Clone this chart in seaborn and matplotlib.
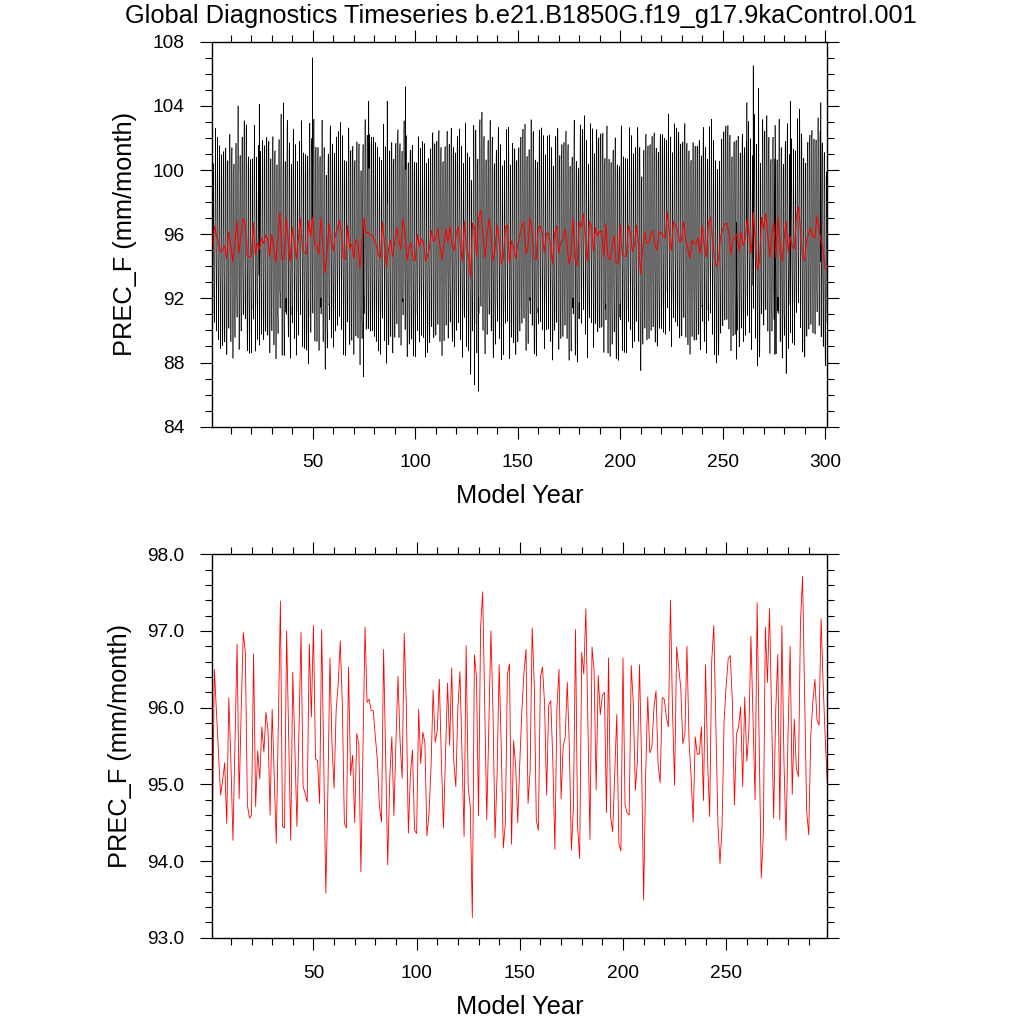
import numpy as np
import matplotlib
matplotlib.use("Agg")
import matplotlib.pyplot as plt
import seaborn as sns
from matplotlib.ticker import MultipleLocator, FormatStrFormatter

case_name = "b.e21.B1850G.f19_g17.9kaControl.001"
var_label = "PREC_F (mm/month)"

annual_prec = [
    94.30, 96.50, 95.96, 95.42, 94.86, 95.05, 95.28, 94.49, 96.13, 95.30,
    94.27, 95.57, 96.83, 94.81, 95.96, 96.98, 96.72, 94.73, 94.56, 94.60,
    96.70, 94.71, 95.44, 95.07, 95.75, 95.42, 95.94, 95.70, 94.60, 95.98,
    95.10, 94.23, 95.80, 97.39, 94.45, 94.43, 97.00, 95.60, 94.27, 96.46,
    95.49, 94.45, 95.70, 96.98, 94.97, 94.88, 94.77, 96.83, 95.88, 97.07,
    95.33, 95.31, 94.75, 97.02, 95.30, 93.58, 94.90, 96.65, 95.53, 94.95,
    95.96, 96.31, 96.87, 96.05, 94.49, 94.43, 96.53, 95.12, 95.38, 94.50,
    95.66, 95.53, 93.86, 95.49, 97.05, 96.07, 96.11, 95.96, 95.96, 95.62,
    95.31, 94.71, 94.51, 96.76, 95.36, 93.95, 95.10, 95.62, 94.59, 95.57,
    96.41, 95.55, 95.08, 96.97, 96.05, 94.36, 95.14, 95.45, 94.40, 94.36,
    95.98, 95.27, 95.68, 95.55, 94.33, 94.62, 95.23, 96.23, 95.55, 95.70,
    96.37, 95.31, 94.43, 95.36, 96.32, 95.51, 96.52, 95.31, 94.97, 96.00,
    96.47, 95.40, 94.32, 96.81, 94.97, 94.71, 93.26, 96.69, 96.40, 94.59,
    97.04, 97.51, 96.00, 94.54, 95.75, 97.00, 95.96, 94.30, 95.14, 96.56,
    95.49, 94.17, 94.49, 96.44, 96.57, 94.22, 95.57, 95.23, 94.50, 95.29,
    95.96, 96.45, 96.76, 94.75, 95.18, 97.04, 96.31, 94.53, 94.40, 96.40,
    96.53, 96.05, 94.86, 96.03, 96.09, 95.31, 94.15, 96.00, 96.50, 94.81,
    95.49, 95.62, 96.33, 95.49, 94.14, 94.71, 97.02, 94.45, 94.03, 96.72,
    96.44, 97.29, 95.75, 94.28, 96.79, 96.48, 94.93, 96.42, 95.91, 96.16,
    96.20, 94.63, 96.65, 94.58, 94.38, 95.14, 95.91, 94.23, 94.13, 96.65,
    94.73, 94.63, 94.60, 96.55, 96.05, 94.92, 95.31, 96.56, 95.31, 93.49,
    95.14, 96.14, 95.41, 95.49, 96.00, 96.22, 95.27, 95.02, 96.13, 96.11,
    95.88, 95.75, 97.40, 95.96, 94.99, 96.79, 96.52, 96.26, 95.53, 95.66,
    96.80, 95.57, 95.10, 94.51, 95.62, 95.39, 95.40, 95.75, 94.79, 96.56,
    95.31, 94.58, 96.61, 97.07, 95.75, 94.49, 93.96, 94.45, 95.83, 96.29,
    96.64, 96.68, 96.08, 94.73, 95.66, 95.75, 96.01, 94.97, 96.14, 95.30,
    95.69, 96.93, 95.86, 94.80, 97.37, 95.51, 93.78, 94.34, 97.05, 96.33,
    97.29, 95.95, 94.56, 95.95, 96.69, 94.54, 97.07, 95.30, 94.27, 95.69,
    96.80, 94.87, 95.85, 95.21, 95.10, 97.11, 97.71, 96.16, 94.65, 94.34,
    95.64, 96.08, 96.37, 95.84, 95.77, 97.16, 96.30, 95.60, 95.00, 93.80,
]

# mean seasonal cycle as anomaly from the annual mean, Jan..Dec
seasonal_anom = [-5.0, -6.0, -4.4, -1.7, 1.3, 4.0, 5.6, 6.1, 4.4, 1.0, -2.0, -3.3]

# single months sticking out of the envelope in the upper panel: (model time, value)
monthly_extremes = [
    (13.6, 104.0), (23.9, 104.1), (35.7, 104.2), (49.8, 107.0), (77.3, 104.3),
    (86.3, 104.3), (95.3, 105.2), (261.8, 104.2), (264.9, 106.5), (267.6, 105.1),
    (283.0, 104.3), (297.9, 104.2),
    (47.8, 87.9), (74.7, 87.1), (128.9, 86.6), (130.9, 86.2), (256.7, 88.2),
    (275.5, 88.5), (281.0, 87.3),
]

# monthly series = annual mean + seasonal cycle, with the read-off extremes
n_years = len(annual_prec)
years = np.arange(1, n_years + 1)
month_time = 1 + np.arange(n_years * 12) / 12.0
monthly_prec = np.repeat(annual_prec, 12) + np.tile(seasonal_anom, n_years)
for t, v in monthly_extremes:
    monthly_prec[np.argmin(np.abs(month_time - t))] = v

# lower panel shows years 1-299
n_low = 299

sns.set_style("white")
plt.rcParams['font.family'] = ['Liberation Sans', 'DejaVu Sans']
plt.rcParams['text.color'] = 'black'
plt.rcParams['axes.labelcolor'] = 'black'
plt.rcParams['xtick.color'] = 'black'
plt.rcParams['ytick.color'] = 'black'

fig = plt.figure(figsize=(10.24, 10.24), dpi=100)
ax1 = fig.add_axes([212.3 / 1024, 1 - 426.7 / 1024, 614.7 / 1024, 385.0 / 1024])
ax2 = fig.add_axes([212.3 / 1024, 1 - 937.7 / 1024, 615.0 / 1024, 383.4 / 1024])

sns.lineplot(x=month_time, y=monthly_prec, ax=ax1, color='black', linewidth=0.42)
sns.lineplot(x=years, y=annual_prec, ax=ax1, color='red', linewidth=0.75)
sns.lineplot(x=years[:n_low], y=annual_prec[:n_low], ax=ax2, color='red', linewidth=0.6)

ax1.set_xlim(1, month_time[-1])
ax1.set_ylim(84, 108)
ax1.yaxis.set_major_locator(MultipleLocator(4))
ax1.yaxis.set_minor_locator(MultipleLocator(1))

ax2.set_xlim(1, n_low)
ax2.set_ylim(93, 98)
ax2.yaxis.set_major_locator(MultipleLocator(1))
ax2.yaxis.set_minor_locator(MultipleLocator(0.2))
ax2.yaxis.set_major_formatter(FormatStrFormatter('%.1f'))

for ax in (ax1, ax2):
    ax.xaxis.set_major_locator(MultipleLocator(50))
    ax.xaxis.set_minor_locator(MultipleLocator(10))
    ax.tick_params(which='both', direction='out', top=True, right=True,
                   bottom=True, left=True, width=0.8, color='black')
    ax.tick_params(which='major', length=8.5, labelsize=13.8, pad=11.5)
    ax.tick_params(which='minor', length=4.7)
    for s in ax.spines.values():
        s.set_linewidth(1.0)
        s.set_color('black')
    ax.set_xlabel("Model Year", fontsize=18.3, labelpad=9)
    ax.set_ylabel(var_label, fontsize=18.3, labelpad=11)

fig.text(0.509, 1 - 16 / 1024, "Global Diagnostics Timeseries " + case_name,
         ha='center', va='center', fontsize=18.3)

fig.savefig("out.png", dpi=100)
